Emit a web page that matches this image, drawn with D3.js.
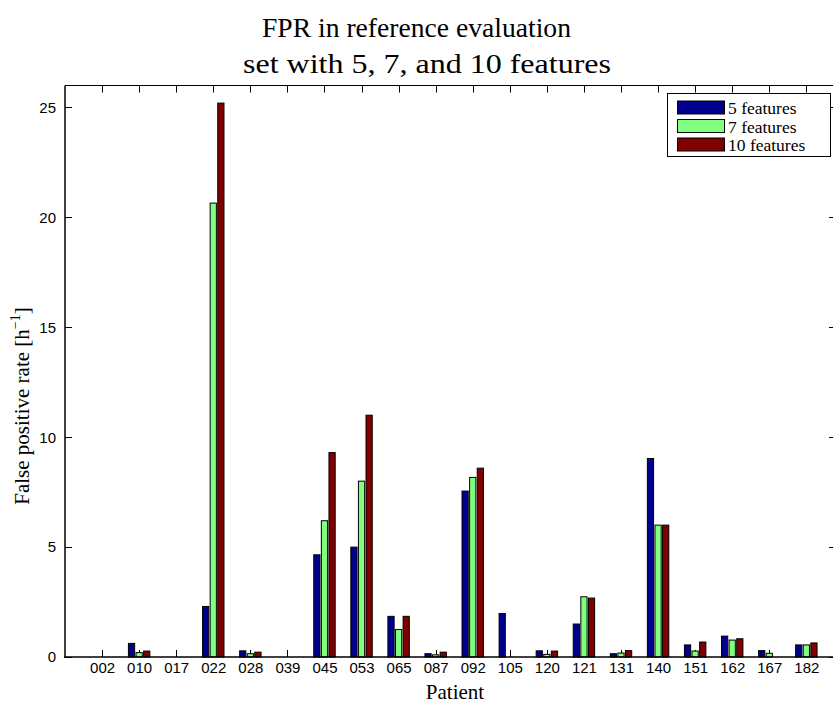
<!DOCTYPE html>
<html>
<head>
<meta charset="utf-8">
<script src="https://cdn.jsdelivr.net/npm/d3@7"></script>
<style>
  html, body { margin: 0; padding: 0; background: #fff; }
  svg { display: block; }
  .tick-label { font-family: "Liberation Sans", Arial, sans-serif; font-size: 15px; fill: #000; }
  .tex { font-family: "Liberation Serif", "DejaVu Serif", serif; fill: #000; }
</style>
</head>
<body>
<svg id="chart" width="833" height="706"></svg>
<script>
// Patients and false positive rates (per hour) for each feature set
const categories = ["002","010","017","022","028","039","045","053","065","087",
                    "092","105","120","121","131","140","151","162","167","182"];
const fpr5  = [0, 0.62, 0, 2.3, 0.28, 0, 4.65, 5.0, 1.85, 0.15,
               7.55, 1.98, 0.28, 1.5, 0.15, 9.03, 0.55, 0.95, 0.29, 0.55];
const fpr7  = [0, 0.2, 0, 20.65, 0.15, 0, 6.2, 8.0, 1.25, 0.1,
               8.17, 0, 0.12, 2.74, 0.18, 6.0, 0.27, 0.77, 0.17, 0.55];
const fpr10 = [0, 0.27, 0, 25.2, 0.22, 0, 9.3, 11.0, 1.85, 0.22,
               8.59, 0, 0.27, 2.68, 0.29, 6.0, 0.68, 0.83, 0, 0.64];
const seriesNames  = ["5 features", "7 features", "10 features"];
const seriesColors = ["#00008f", "#80ff80", "#800000"];
const yTicks = [0, 5, 10, 15, 20, 25];

const series = [fpr5, fpr7, fpr10];

const svg = d3.select("#chart");
const plot = { left: 65, right: 836, top: 85.5, bottom: 657 };
const tickLen = 7;

// x runs over category positions 1..20
const x = d3.scaleLinear().domain([0, 20.8]).range([plot.left, plot.right]);
const y = d3.scaleLinear().domain([0, 26]).range([plot.bottom, plot.top]);

const barPitch = 0.205;  // spacing between bars within a group (data units)
const barWidth = 0.168;  // width of each bar (data units)

// Axis box: top line and inward ticks on all sides
const frame = svg.append("g");
frame.append("line")
  .attr("x1", plot.left).attr("x2", plot.right)
  .attr("y1", plot.top).attr("y2", plot.top)
  .attr("stroke", "#000").attr("stroke-width", 1);

categories.forEach((c, i) => {
  const cx = Math.round(x(i + 1)) + 0.5;
  frame.append("line")
    .attr("x1", cx).attr("x2", cx)
    .attr("y1", plot.top).attr("y2", plot.top + tickLen)
    .attr("stroke", "#000").attr("stroke-width", 1);
  frame.append("line")
    .attr("x1", cx).attr("x2", cx)
    .attr("y1", plot.bottom).attr("y2", plot.bottom - tickLen)
    .attr("stroke", "#000").attr("stroke-width", 1);
});

yTicks.forEach(t => {
  const ty = Math.round(y(t)) + 0.5;
  frame.append("line")
    .attr("x1", plot.left).attr("x2", plot.left + tickLen)
    .attr("y1", ty).attr("y2", ty)
    .attr("stroke", "#000").attr("stroke-width", 1);
  frame.append("line")
    .attr("x1", plot.right).attr("x2", plot.right - tickLen)
    .attr("y1", ty).attr("y2", ty)
    .attr("stroke", "#000").attr("stroke-width", 1);
});

// Grouped bars
const bars = svg.append("g");
series.forEach((vals, s) => {
  bars.selectAll(null)
    .data(vals)
    .enter()
    .append("rect")
    .attr("x", (d, i) => x(i + 1 + (s - 1) * barPitch - barWidth / 2))
    .attr("width", x(barWidth) - x(0))
    .attr("y", d => y(d))
    .attr("height", d => y(0) - y(d))
    .attr("fill", seriesColors[s])
    .attr("stroke", "#000")
    .attr("stroke-width", 1);
});

// Left and bottom axes with tick labels
const yAxis = d3.axisLeft(y).tickValues(yTicks).tickSize(0).tickPadding(9).tickFormat(d3.format("d"));
const gy = svg.append("g").attr("transform", `translate(${plot.left},0)`).call(yAxis);
gy.select(".domain").remove();
gy.selectAll("text").attr("class", "tick-label").attr("font-family", null).attr("font-size", null);

const xAxis = d3.axisBottom(x).tickValues(d3.range(1, categories.length + 1))
  .tickSize(0).tickPadding(5).tickFormat(d => categories[d - 1]);
const gx = svg.append("g").attr("transform", `translate(0,${plot.bottom})`).call(xAxis);
gx.select(".domain").remove();
gx.selectAll("text").attr("class", "tick-label").attr("font-family", null).attr("font-size", null);

svg.append("line")
  .attr("x1", plot.left).attr("x2", plot.left)
  .attr("y1", plot.top).attr("y2", plot.bottom + 0.75)
  .attr("stroke", "#000").attr("stroke-width", 1.5);
svg.append("line")
  .attr("x1", plot.left - 0.75).attr("x2", plot.right)
  .attr("y1", plot.bottom).attr("y2", plot.bottom)
  .attr("stroke", "#000").attr("stroke-width", 1.5);

// Title, two lines
svg.append("text").attr("class", "tex")
  .attr("x", 262).attr("y", 37).attr("font-size", 27)
  .attr("textLength", 309).attr("lengthAdjust", "spacingAndGlyphs")
  .text("FPR in reference evaluation");
svg.append("text").attr("class", "tex")
  .attr("x", 243).attr("y", 73).attr("font-size", 27)
  .attr("textLength", 368).attr("lengthAdjust", "spacingAndGlyphs")
  .text("set with 5, 7, and 10 features");

// Axis titles
svg.append("text").attr("class", "tex")
  .attr("text-anchor", "middle").attr("font-size", 21)
  .attr("x", 455).attr("y", 699).text("Patient");

const ylab = svg.append("text").attr("class", "tex")
  .attr("text-anchor", "middle").attr("font-size", 21)
  .attr("transform", "translate(29,406) rotate(-90)");
ylab.append("tspan").text("False positive rate [h");
ylab.append("tspan").attr("font-size", 14).attr("dy", -9).text("\u22121");
ylab.append("tspan").attr("dy", 9).text("]");

// Legend
const legend = svg.append("g");
legend.append("rect")
  .attr("x", 667.5).attr("y", 93.5).attr("width", 163).attr("height", 63)
  .attr("fill", "#fff").attr("stroke", "#000").attr("stroke-width", 1);
seriesNames.forEach((name, s) => {
  const ry = 101 + s * 18.5;
  legend.append("rect")
    .attr("x", 677.5).attr("y", ry).attr("width", 47).attr("height", 13)
    .attr("fill", seriesColors[s]).attr("stroke", "#000").attr("stroke-width", 1);
  legend.append("text").attr("class", "tex")
    .attr("x", 728).attr("y", ry + 13).attr("font-size", 17.5).text(name);
});
</script>
</body>
</html>
